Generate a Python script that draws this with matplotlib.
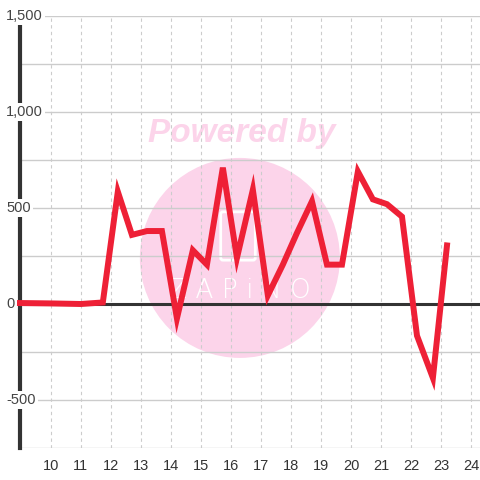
import numpy as np
import matplotlib.pyplot as plt
from matplotlib.patches import Ellipse, FancyBboxPatch
import matplotlib.transforms as mtransforms

plt.rcParams['font.family'] = ['Liberation Sans', 'DejaVu Sans']

# data (hour of day, value)
hours = [8.97, 10.0, 11.0, 11.73, 12.23, 12.7, 13.2, 13.7, 14.2, 14.73,
         15.2, 15.73, 16.2, 16.73, 17.23, 17.73, 18.2, 18.7, 19.2, 19.7,
         20.23, 20.73, 21.2, 21.7, 22.2, 22.73, 23.2]
values = [5, 3, 0, 8, 585, 360, 380, 380, -75, 280,
          205, 710, 240, 595, 45, 205, 370, 535, 205, 205,
          690, 545, 520, 455, -165, -385, 305]

x_ticks = list(range(10, 25))
y_labels = [-500, 0, 500, 1000, 1500]
y_grid = np.arange(-750, 1501, 250)

fig = plt.figure(figsize=(4.8, 4.8), dpi=100)
ax = fig.add_axes([20/480, 32/480, 460/480, 432/480])

ax.set_xlim(8.97, 24.3)
ax.set_ylim(-750, 1500)

# watermark behind everything
ax.add_patch(Ellipse((0.478, 0.44), 200/460, 200/432, transform=ax.transAxes,
                     facecolor='#fcd4ea', edgecolor='none', zorder=0.1))
ax.text(0.482, 0.729, 'Powered by', transform=ax.transAxes, ha='center', va='center',
        fontsize=24, fontweight='bold', fontstyle='italic', color='#fcd4ea', zorder=0.2)
ax.text(0.478, 0.365, 'Z A P i N O', transform=ax.transAxes, ha='center', va='center',
        fontsize=19, color='white', family='DejaVu Sans', fontweight='light', zorder=0.2)
ax.add_patch(FancyBboxPatch((203/460, 190/432), 30/460, 44/432, transform=ax.transAxes,
                            boxstyle='round,pad=0.005', facecolor='none',
                            edgecolor='white', linewidth=2, zorder=0.2))

# grid
ax.set_axisbelow(True)
ax.set_yticks(y_grid)
ax.set_xticks(x_ticks)
ax.grid(axis='y', color='#cccccc', linewidth=1)
ax.grid(axis='x', color='#cccccc', linewidth=0.8, linestyle=(0, (3, 3)))

for s in ['top', 'right', 'bottom']:
    ax.spines[s].set_visible(False)
ax.spines['left'].set_color('#333333')
ax.spines['left'].set_linewidth(3)
ax.spines['left'].set_zorder(3)

ax.tick_params(axis='both', length=0)
ax.tick_params(axis='x', labelsize=10.5, labelcolor='#333333', pad=8)
ax.set_yticklabels([])

# y labels with white box over the spine
trans = mtransforms.blended_transform_factory(fig.transFigure, ax.transData)
for v in y_labels:
    ax.text(6/480, v, f'{v:,}', transform=trans, ha='left', va='center',
            fontsize=10.5, color='#444444', zorder=5, clip_on=False,
            bbox=dict(facecolor='white', edgecolor='none', pad=1.5))

ax.axhline(0, color='#333333', linewidth=2.2, zorder=3)
ax.plot(hours, values, color='#ee2036', linewidth=4.3, zorder=4,
        solid_joinstyle='miter', clip_on=False)

fig.savefig('out.png', dpi=100)
